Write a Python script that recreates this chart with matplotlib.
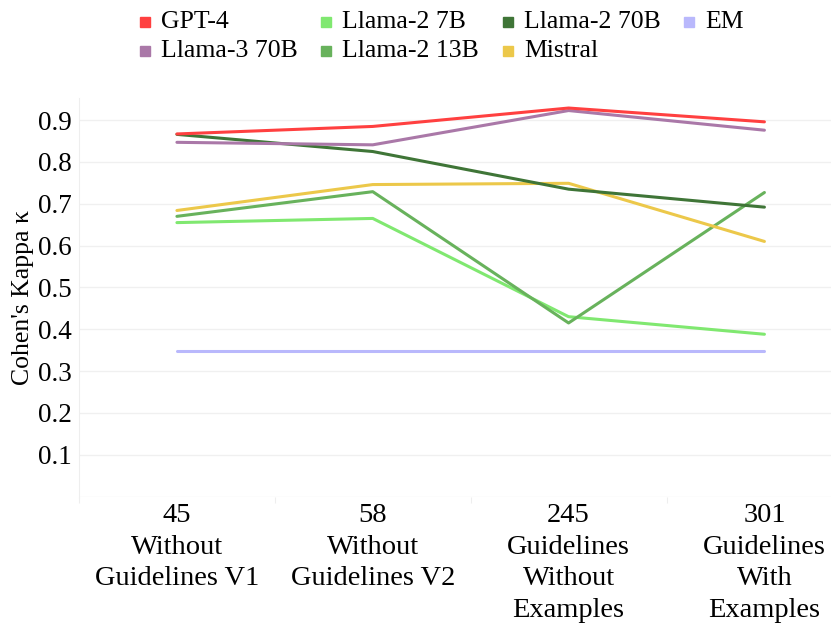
import matplotlib
matplotlib.use("Agg")
import matplotlib.pyplot as plt
from matplotlib.lines import Line2D

plt.rcParams['font.family'] = ['Liberation Serif', 'DejaVu Serif']

categories = ["45\nWithout\nGuidelines V1", "58\nWithout\nGuidelines V2",
              "245\nGuidelines\nWithout\nExamples", "301\nGuidelines\nWith\nExamples"]

gpt4 = [0.867, 0.885, 0.929, 0.896]
llama3_70b = [0.847, 0.841, 0.923, 0.876]
llama2_70b = [0.866, 0.825, 0.735, 0.692]
mistral = [0.684, 0.746, 0.749, 0.610]
llama2_13b = [0.670, 0.729, 0.415, 0.727]
llama2_7b = [0.655, 0.665, 0.430, 0.388]
em = [0.348, 0.348, 0.348, 0.348]

series = [
    ("GPT-4", gpt4, "#ff4040"),
    ("Llama-2 7B", llama2_7b, "#80e870"),
    ("Llama-2 70B", llama2_70b, "#3f7537"),
    ("EM", em, "#b9b8fc"),
    ("Llama-3 70B", llama3_70b, "#aa78a8"),
    ("Llama-2 13B", llama2_13b, "#68b25c"),
    ("Mistral", mistral, "#ecc84a"),
]
draw_order = ["EM", "Llama-2 7B", "Llama-2 13B", "Mistral", "Llama-2 70B", "Llama-3 70B", "GPT-4"]

W, H = 831, 635
fig = plt.figure(figsize=(W / 100, H / 100), dpi=100)
ax = fig.add_axes([79 / W, 1 - 496.5 / H, 1 - 79 / W, (496.5 - 98) / H])

x = list(range(len(categories)))
lookup = {n: (v, c) for n, v, c in series}
for name in draw_order:
    v, c = lookup[name]
    ax.plot(x, v, color=c, lw=2.2, solid_capstyle='round', solid_joinstyle='round', zorder=3)

ax.set_xlim(-0.5, 3.34)
ax.set_ylim(0, 0.953)
yt = [0.1, 0.2, 0.3, 0.4, 0.5, 0.6, 0.7, 0.8, 0.9]
ax.set_yticks(yt)
ax.set_yticklabels([f"{v:.1f}" for v in yt], fontsize=19.5)
ax.set_xticks(x)
ax.set_xticklabels(categories, fontsize=20.5, linespacing=1.34, va='top')
ax.tick_params(axis='x', length=0, pad=5)
ax.tick_params(axis='y', length=0, pad=5)
ax.set_xticks([-0.5, 0.5, 1.5, 2.5], minor=True)
ax.tick_params(axis='x', which='minor', length=4, color='#eeeeee', width=0.8)

for yv in [0.0] + yt:
    ax.axhline(yv, color='#f0f0f0', lw=1, zorder=0)

for s in ['top', 'right', 'bottom']:
    ax.spines[s].set_visible(False)
ax.spines['left'].set_color('#eeeeee')
ax.spines['left'].set_linewidth(0.8)

ax.set_ylabel("Cohen's Kappa κ", fontsize=18.5, labelpad=3)

# legend, laid out in plotly-style uniform columns
col_x = [145, 326, 508, 689]
row_y = [22, 51]
for i, (name, v, c) in enumerate(series):
    r, k = divmod(i, 4)
    mx, my = col_x[k], row_y[r]
    fig.add_artist(Line2D([mx / W], [1 - my / H], marker='s', markersize=7.5,
                          markerfacecolor=c, markeredgecolor=c, linestyle='none',
                          transform=fig.transFigure))
    fig.text((mx + 16) / W, 1 - my / H, name, fontsize=18.5, va='center', ha='left')

fig.savefig("out.png", dpi=100, facecolor='white')
